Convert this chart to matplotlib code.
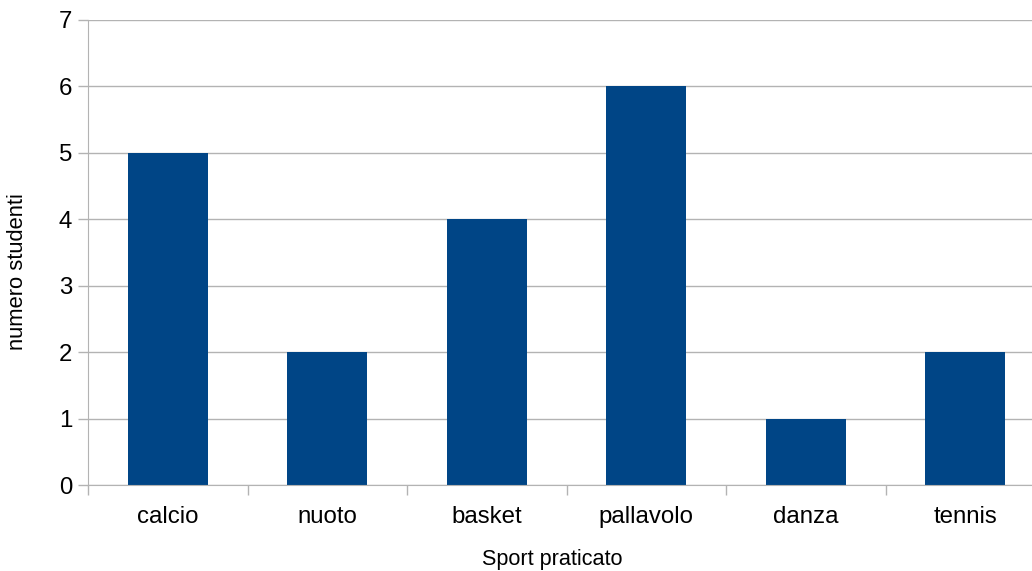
import matplotlib
matplotlib.use("Agg")
import matplotlib.pyplot as plt
import numpy as np

categories = ["calcio", "nuoto", "basket", "pallavolo", "danza", "tennis"]
values = [5, 2, 4, 6, 1, 2]
yticks = [0, 1, 2, 3, 4, 5, 6, 7]

plt.rcParams['font.family'] = ['Liberation Sans', 'DejaVu Sans']

W, H = 1032, 571
fig = plt.figure(figsize=(W / 100, H / 100), dpi=100)
ax = fig.add_axes([88 / W, 86 / H, 957 / W, 465 / H])

x = np.arange(len(categories))
ax.bar(x, values, width=0.5, color="#004586", zorder=3)

ax.set_xlim(-0.5, len(categories) - 0.5)
ax.set_ylim(0, 7)
ax.set_yticks(yticks)
ax.set_yticklabels([str(v) for v in yticks])
ax.set_xticks(x)
ax.set_xticklabels(categories)
ax.set_xticks(np.arange(len(categories) + 1) - 0.5, minor=True)

grid_c = "#b3b3b3"
ax.yaxis.grid(True, color=grid_c, linewidth=1.0, zorder=0)
ax.xaxis.grid(False)
for s in ["top", "right"]:
    ax.spines[s].set_visible(False)
ax.spines["left"].set_color(grid_c)
ax.spines["bottom"].set_color(grid_c)
ax.spines["left"].set_zorder(4)
ax.spines["bottom"].set_zorder(4)

ax.tick_params(axis="y", which="major", length=7.2, width=1, color=grid_c,
               labelsize=17.3, pad=4.3, labelcolor="#000000")
ax.tick_params(axis="x", which="major", length=0, labelsize=17.3, pad=15.0,
               labelcolor="#000000")
ax.tick_params(axis="x", which="minor", length=7.2, width=1, color=grid_c)

fig.text(552 / W, 1 - 560 / H, "Sport praticato", fontsize=15.6, ha="center", va="center")
fig.text(18 / W, 1 - 272 / H, "numero studenti", fontsize=15.8, ha="center", va="center",
         rotation=90)

fig.savefig("out.png", dpi=100)
